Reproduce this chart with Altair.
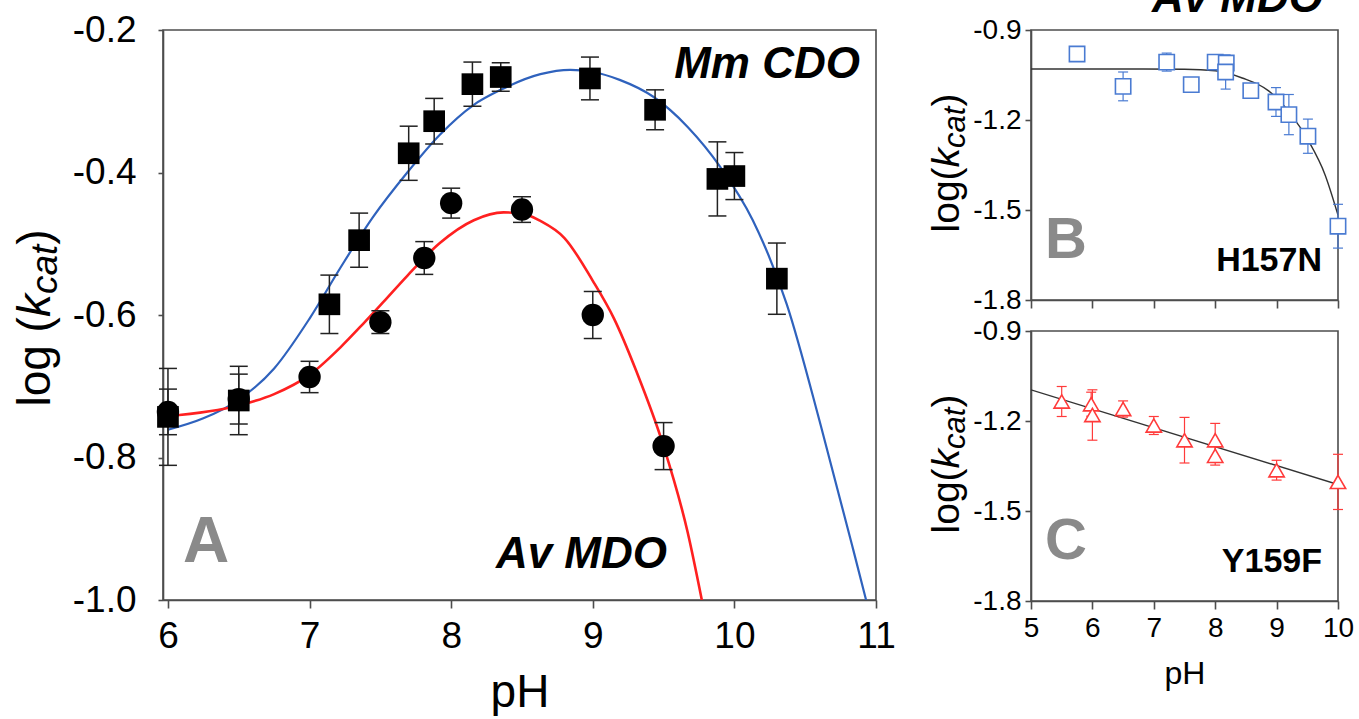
import altair as alt
import pandas as pd

FONT = "Liberation Sans"
AXC = "#4d4d4d"

# ---------------- Panel A data ----------------
ph_cdo = [6.0, 6.5, 7.14, 7.35, 7.70, 7.88, 8.15, 8.35, 8.98, 9.44, 9.88, 10.0, 10.30]
cdo = [-0.743, -0.720, -0.585, -0.495, -0.373, -0.328, -0.276, -0.266, -0.268, -0.312, -0.409, -0.405, -0.549]
cdo_err = [0.068, 0.048, 0.041, 0.038, 0.038, 0.032, 0.031, 0.020, 0.030, 0.028, 0.052, 0.033, 0.050]

ph_mdo = [6.0, 6.5, 7.0, 7.5, 7.81, 8.0, 8.5, 9.0, 9.5]
mdo = [-0.736, -0.718, -0.687, -0.610, -0.520, -0.443, -0.452, -0.600, -0.784]
mdo_err = [0.032, 0.035, 0.022, 0.016, 0.023, 0.021, 0.018, 0.033, 0.033]

fit_cdo_ph = [6.0, 6.25, 6.5, 6.75, 7.0, 7.22, 7.45, 7.69, 7.92, 8.16, 8.35, 8.63, 8.84, 9.0,
              9.19, 9.43, 9.67, 9.9, 10.13, 10.37, 10.61, 10.84, 10.93]
fit_cdo = [-0.761, -0.745, -0.719, -0.675, -0.605, -0.533, -0.462, -0.400, -0.347, -0.305, -0.284,
           -0.262, -0.256, -0.259, -0.270, -0.294, -0.336, -0.392, -0.467, -0.585, -0.755, -0.930, -1.0]

fit_mdo_ph = [6.0, 6.5, 6.75, 7.0, 7.22, 7.38, 7.52, 7.69, 7.92, 8.16, 8.37, 8.49, 8.63, 8.8,
              9.0, 9.15, 9.31, 9.5, 9.67, 9.77]
fit_mdo = [-0.742, -0.727, -0.711, -0.684, -0.645, -0.612, -0.582, -0.545, -0.499, -0.467, -0.456,
           -0.457, -0.468, -0.492, -0.552, -0.605, -0.680, -0.784, -0.905, -1.0]

# ---------------- Panel B data (H157N) ----------------
ph_h = [5.75, 6.5, 7.21, 7.61, 8.0, 8.18, 8.17, 8.58, 8.99, 9.2, 9.51, 10.0]
h157n = [-0.980, -1.088, -1.007, -1.082, -1.007, -1.010, -1.040, -1.102, -1.140, -1.182, -1.254, -1.554]
h157n_err = [0.005, 0.048, 0.030, 0.008, 0.010, 0.015, 0.057, 0.010, 0.048, 0.067, 0.057, 0.073]

fit_h_ph = [5.0, 6.5, 7.5, 8.0, 8.44, 8.87, 9.24, 9.52, 9.79, 10.0]
fit_h = [-1.030, -1.030, -1.031, -1.036, -1.060, -1.103, -1.183, -1.270, -1.383, -1.517]

# ---------------- Panel C data (Y159F) ----------------
ph_y = [5.5, 5.98, 6.0, 6.5, 7.0, 7.5, 8.0, 8.0, 9.0, 10.0]
y159f = [-1.135, -1.144, -1.180, -1.160, -1.215, -1.264, -1.264, -1.316, -1.364, -1.403]
y159f_err = [0.050, 0.040, 0.084, 0.027, 0.030, 0.076, 0.056, 0.031, 0.033, 0.092]

fit_y_ph = [5.0, 10.0]
fit_y = [-1.096, -1.412]

ticks_a_x = [6, 7, 8, 9, 10, 11]
ticks_a_y = [-1.0, -0.8, -0.6, -0.4, -0.2]
ticks_bc_x = [5, 6, 7, 8, 9, 10]
ticks_bc_y = [-1.8, -1.5, -1.2, -0.9]


def pts(ph, y, err=None):
    d = pd.DataFrame({"ph": ph, "y": y})
    if err is not None:
        d["lo"] = [a - e for a, e in zip(y, err)]
        d["hi"] = [a + e for a, e in zip(y, err)]
    return d


ONE = pd.DataFrame({"a": [0]})
LABEL_FIX = "replace(datum.label, '\u2212', '-')"


def txt(text, x, y, size, weight="normal", style="normal", color="black",
        align="left", baseline="alphabetic", angle=0):
    return alt.Chart(ONE).mark_text(
        text=text, fontSize=size, fontWeight=weight, fontStyle=style, color=color,
        align=align, baseline=baseline, angle=angle, font=FONT
    ).encode(x=alt.value(x), y=alt.value(y))


ADV = {"l": .222, "o": .556, "g": .556, " ": .278, "(": .333, ")": .333,
       "k": .5, "c": .5, "a": .556, "t": .278}


def rot_title(parts, xb, yc):
    lens = [sum(ADV[ch] for ch in t) * fs for t, st, fs, sh in parts]
    y = yc + sum(lens) / 2
    out = []
    for (t, st, fs, sh), L in zip(parts, lens):
        out.append(txt(t, xb + sh, y, fs, style=st, angle=270))
        y -= L
    return out


# ---------------- Panel A ----------------
xA = alt.Scale(domain=[5.965, 11], nice=False, zero=False)
yA = alt.Scale(domain=[-1.0, -0.2], nice=False, zero=False)
axXA = alt.Axis(values=ticks_a_x, format="d", title="pH", labelFontSize=37, titleFontSize=46,
                tickSize=8, labelPadding=10, titlePadding=16, labelFlush=False, labelOverlap=False,
                titleFontWeight="normal")
axYA = alt.Axis(values=ticks_a_y, format=".1f", title=None, labelFontSize=37, tickSize=5,
                labelPadding=22, labelFlush=False, labelOverlap=False, labelExpr=LABEL_FIX)


def XA(f):
    return alt.X(f + ":Q", scale=xA, axis=axXA)


def YA(f):
    return alt.Y(f + ":Q", scale=yA, axis=axYA)


d_cdo = pts(ph_cdo, cdo, cdo_err)
d_mdo = pts(ph_mdo, mdo, mdo_err)

layersA = [
    alt.Chart(pts(fit_cdo_ph, fit_cdo)).mark_line(color="#2f62bd", strokeWidth=2.2, interpolate="monotone", clip=True)
    .encode(x=XA("ph"), y=YA("y")),
    alt.Chart(pts(fit_mdo_ph, fit_mdo)).mark_line(color="#ff2020", strokeWidth=2.6, interpolate="monotone", clip=True)
    .encode(x=XA("ph"), y=YA("y")),
]
for d in (d_cdo, d_mdo):
    layersA += [
        alt.Chart(d).mark_rule(color="#222", strokeWidth=1.5).encode(x=XA("ph"), y=YA("lo"), y2="hi"),
        alt.Chart(d).mark_tick(orient="horizontal", size=18, thickness=1.5, color="#222", opacity=1)
        .encode(x=XA("ph"), y=YA("lo")),
        alt.Chart(d).mark_tick(orient="horizontal", size=18, thickness=1.5, color="#222", opacity=1)
        .encode(x=XA("ph"), y=YA("hi")),
    ]
layersA += [
    alt.Chart(d_cdo).mark_point(shape="square", filled=True, size=470, color="black", opacity=1)
    .encode(x=XA("ph"), y=YA("y")),
    alt.Chart(d_mdo).mark_circle(size=500, color="black", opacity=1).encode(x=XA("ph"), y=YA("y")),
    txt("Mm CDO", 697, 48, 44, weight="bold", style="italic", align="right"),
    txt("Av MDO", 504, 538, 44, weight="bold", style="italic", align="right"),
    txt("A", 20, 532, 64, weight="bold", color="#8a8a8a"),
]
layersA += rot_title([("log (", "normal", 46, 0), ("k", "italic", 46, 0),
                      ("cat", "italic", 37, 7), (")", "normal", 46, 0)], -113, 288)
panelA = alt.layer(*layersA).properties(width=713, height=570)

# ---------------- Panels B and C ----------------
xBC = alt.Scale(domain=[5, 10], nice=False, zero=False)
yBC = alt.Scale(domain=[-1.8, -0.9], nice=False, zero=False)
axYBC = alt.Axis(values=ticks_bc_y, format=".1f", title=None, labelFontSize=28, tickSize=6,
                 labelPadding=4, labelFlush=False, labelOverlap=False, labelExpr=LABEL_FIX)
axXB = alt.Axis(values=ticks_bc_x, labels=False, title=None, tickSize=8)
axXC = alt.Axis(values=ticks_bc_x, format="d", title="pH", labelFontSize=28, titleFontSize=32,
                tickSize=8, labelPadding=5, titlePadding=16, labelFlush=False, labelOverlap=False,
                titleFontWeight="normal")


def small_panel(dpts, dfit, color, shape, axX, label, tag, top_text=None):
    def X(f):
        return alt.X(f + ":Q", scale=xBC, axis=axX)

    def Y(f):
        return alt.Y(f + ":Q", scale=yBC, axis=axYBC)

    lay = [
        alt.Chart(dfit).mark_line(color="#333", strokeWidth=1.4, clip=True, interpolate="monotone")
        .encode(x=X("ph"), y=Y("y")),
        alt.Chart(dpts).mark_rule(color=color, strokeWidth=1.2).encode(x=X("ph"), y=Y("lo"), y2="hi"),
        alt.Chart(dpts).mark_tick(orient="horizontal", size=10, thickness=1.2, color=color, opacity=1)
        .encode(x=X("ph"), y=Y("lo")),
        alt.Chart(dpts).mark_tick(orient="horizontal", size=10, thickness=1.2, color=color, opacity=1)
        .encode(x=X("ph"), y=Y("hi")),
        alt.Chart(dpts).mark_point(shape=shape, size=235, filled=True, fill="white", stroke=color,
                                   strokeWidth=1.6, opacity=1).encode(x=X("ph"), y=Y("y")),
        txt(label, 14, 228, 58, weight="bold", color="#8a8a8a"),
        txt(tag, 291, 241, 34, weight="bold", align="right"),
    ]
    if top_text:
        lay.append(txt(top_text, 292, -18, 44, weight="bold", style="italic", align="right"))
    lay += rot_title([("log(", "normal", 39, 0), ("k", "italic", 39, 0),
                      ("cat", "italic", 31, 6), (")", "normal", 39, 0)], -72, 133)
    return alt.layer(*lay).properties(width=307, height=270)


panelB = small_panel(pts(ph_h, h157n, h157n_err), pts(fit_h_ph, fit_h), "#4a7bd2", "square",
                     axXB, "B", "H157N", top_text="Av MDO")
panelC = small_panel(pts(ph_y, y159f, y159f_err), pts(fit_y_ph, fit_y), "#ff3b3b", "triangle-up",
                     axXC, "C", "Y159F")

chart = alt.hconcat(
    panelA,
    alt.vconcat(panelB, panelC, spacing=31, bounds="flush"),
    spacing=155, bounds="flush",
).properties(
    padding={"left": 12, "top": -24, "right": 0, "bottom": 0}
).configure(font=FONT).configure_view(
    stroke=AXC, strokeWidth=1.6
).configure_axis(
    domainColor=AXC, tickColor=AXC, domainWidth=1.6, tickWidth=1.6, labelColor="black",
    titleColor="black", grid=False, labelFont=FONT, titleFont=FONT
)

chart.save("out.html", embed_options={"renderer": "svg", "actions": False})
